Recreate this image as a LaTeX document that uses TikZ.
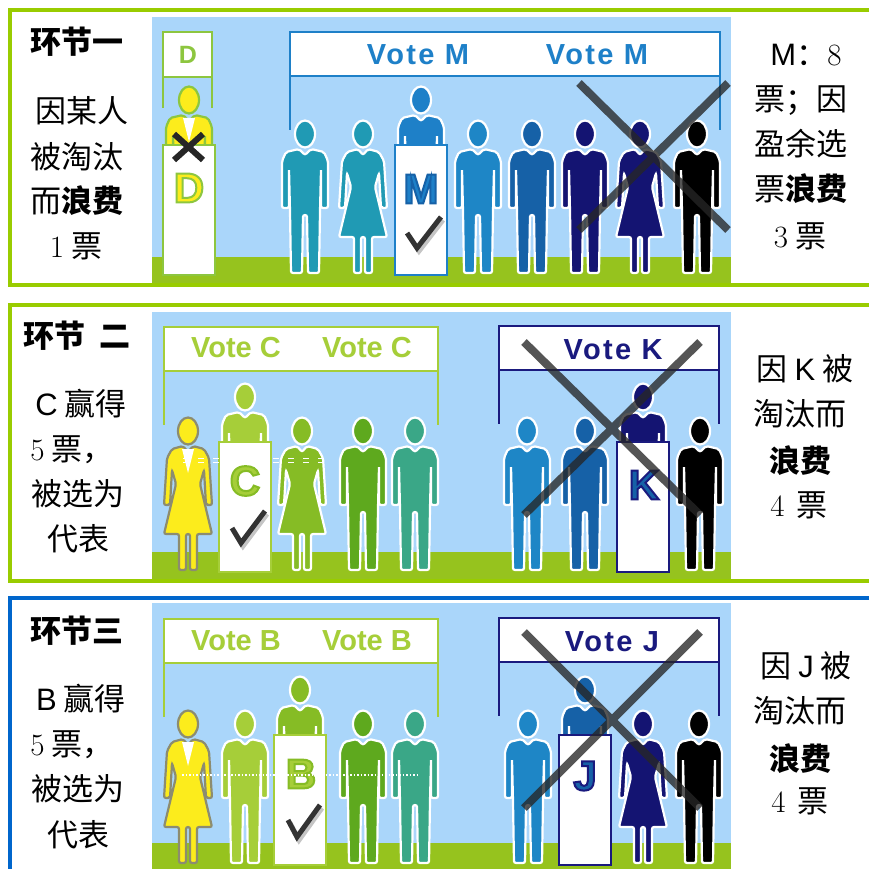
\documentclass[tikz,border=0pt]{standalone}
\usepackage{fontspec}
\newfontfamily\cjk{Noto Sans CJK SC}
\newfontfamily\arial{Liberation Sans}
\usetikzlibrary{positioning}

\definecolor{framegreen}{HTML}{99CC00}
\definecolor{frameblue}{HTML}{0066CC}
\definecolor{sky}{HTML}{AAD6FA}
\definecolor{grass}{HTML}{96C31E}
\definecolor{limeC}{HTML}{A6CE39}
\definecolor{signgreen}{HTML}{8DC63F}
\definecolor{leaf}{HTML}{86BC25}
\definecolor{moss}{HTML}{5EA91E}
\definecolor{seagreen}{HTML}{3AA787}
\definecolor{figteal}{HTML}{209AB4}
\definecolor{figblue}{HTML}{1E86C6}
\definecolor{mblue}{HTML}{1E80C8}
\definecolor{figmid}{HTML}{1661A7}
\definecolor{fignavy}{HTML}{141472}
\definecolor{navyline}{HTML}{1A1A7E}
\definecolor{figyellow}{HTML}{FCEC1C}
\definecolor{yellowline}{HTML}{8C8C70}

\tikzset{
  say/.style={font=\cjk\fontsize{31}{31}\selectfont, inner sep=0pt, text height=26pt, text depth=5pt},
  title/.style={say, font=\cjk\bfseries\fontsize{31}{31}\selectfont},
  vote/.style={font=\arial\bfseries\fontsize{29}{29}\selectfont, inner sep=0pt},
  spaced/.style={font=\arial\bfseries\fontsize{29}{29}\selectfont\addfontfeature{LetterSpace=8}, inner sep=0pt},
  podtxt/.style={font=\arial\bfseries\fontsize{42}{42}\selectfont, inner sep=0pt},
  cross/.style={draw=black!85, line width=8pt, opacity=.78},
}

% standing figures, feet at (#1,#2)
\newcommand\manfig[4]{%
  \begin{scope}[shift={(#1,#2)}]
    \filldraw[fill=#3, draw=#4, line width=2.2pt, rounded corners=2pt]
      (-6,-124) -- (-19,-121) -- (-23,-112) -- (-23,-65) -- (-16,-65) -- (-16,-104)
      -- (-15,-62) -- (-14,0) -- (-3,0) -- (-2,-58) -- (2,-58) -- (3,0) -- (14,0)
      -- (15,-62) -- (16,-104) -- (16,-65) -- (23,-65) -- (23,-112) -- (19,-121)
      -- (6,-124) -- (0,-118) -- cycle;
    \filldraw[fill=#3, draw=#4, line width=2.2pt] (0,-139) ellipse [x radius=10, y radius=13.5];
  \end{scope}}
\newcommand\womanfig[4]{%
  \begin{scope}[shift={(#1,#2)}]
    \filldraw[fill=#3, draw=#4, line width=2.2pt, rounded corners=2pt]
      (-5,-124) -- (-16,-121) -- (-21,-112) -- (-24,-65) -- (-18,-65) -- (-16,-100)
      -- (-12,-86) -- (-24,-36) -- (-9,-36) -- (-9,0) -- (-2,0) -- (-2,-36) -- (2,-36)
      -- (2,0) -- (9,0) -- (9,-36) -- (24,-36) -- (12,-86) -- (16,-100) -- (18,-65)
      -- (24,-65) -- (21,-112) -- (16,-121) -- (5,-124) -- (0,-118) -- cycle;
    \filldraw[fill=#3, draw=#4, line width=2.2pt] (0,-139) ellipse [x radius=10, y radius=13.5];
  \end{scope}}
\newcommand\collar[2]{\fill[white] (#1-6,#2-121) -- (#1+6,#2-121) -- (#1,#2-97) -- cycle;}
\newcommand\podium[3]{\filldraw[fill=white, draw=#3, line width=2pt] (#1-26,#2-128) rectangle (#1+26,#2+2);}
% letter filled with #5 and stroked with rgb #6
\newcommand\podletter[6]{%
  \node[podtxt, text=#5] (#1) at (#2,#3)
    {\special{pdf:code q 2 Tr 2 w #6 RG}#4\special{pdf:code Q}};}
\newcommand\banner[4]{%
  \draw[#4, line width=2.5pt] (#1,#2+44) -- (#1,#2+98) (#3,#2+44) -- (#3,#2+98);
  \filldraw[fill=white, draw=#4, line width=2pt] (#1,#2) rectangle (#3,#2+44);}
\newcommand\votecheck[6]{%
  \draw[black!45, opacity=.5, line width=5pt] (#1+2,#2+3) -- (#3+2,#4+3) -- (#5+2,#6+3);
  \draw[black!80, line width=5pt] (#1,#2) -- (#3,#4) -- (#5,#6);}
\newcommand\crossout[4]{\draw[cross] (#1,#2) -- (#3,#4) (#3,#2) -- (#1,#4);}

\begin{document}
\begin{tikzpicture}[x=1pt, y=-1pt]
\useasboundingbox (0,0) rectangle (869,869);

% round one
\draw[framegreen, line width=4pt] (869,10) -- (10,10) -- (10,285) -- (869,285);
\fill[sky] (152,17) rectangle (731,283);
\fill[grass] (152,257) rectangle (731,283);
\draw[signgreen, line width=2.5pt] (163,77) -- (163,108) (212,77) -- (212,108);
\filldraw[fill=white, draw=signgreen, line width=2pt] (163,32) rectangle (212,77);
\node[font=\arial\bfseries\fontsize{25}{25}\selectfont, text=signgreen, inner sep=0pt] (signD) at (188,55) {D};
\banner{290}{32}{720}{mblue}
\node[spaced, text=mblue] (voteMa) at (418,55) {Vote M};
\node[spaced, text=mblue] (voteMb) at (597,55) {Vote M};
\manfig{189}{239}{figyellow}{signgreen}
\collar{189}{239}
\podium{189}{273}{signgreen}
\podletter{letD}{189}{188}{D}{figyellow}{0.553 0.776 0.247}
\draw[black!85, line width=6pt] (174,134) -- (203,160) (203,134) -- (174,160);
\manfig{305}{273}{figteal}{white}
\womanfig{363}{273}{figteal}{white}
\manfig{421}{239}{mblue}{white}
\podium{421}{273}{mblue}
\podletter{letM}{421}{189}{M}{mblue}{0.086 0.380 0.655}
\votecheck{407}{233}{417}{248}{441}{217}
\manfig{478}{273}{figblue}{white}
\manfig{532}{273}{figmid}{white}
\manfig{585}{273}{fignavy}{white}
\womanfig{640}{273}{fignavy}{white}
\manfig{697}{273}{black}{white}
\crossout{579}{83}{728}{230}

\node[title] (oneT) at (77,43) {环节一};
\node[say] (oneA) at (82,112) {因某人};
\node[say] (oneB) at (77,158) {被淘汰};
\node[say] (oneC) at (77,202) {而\textbf{浪费}};
\node[say] (oneD) at (76,247) {\textrm{1} 票};
\node[say] (oneE) at (806,55) {{\arial M}：\textrm{8}};
\node[say] (oneF) at (801,100) {票；因};
\node[say] (oneG) at (801,145) {盈余选};
\node[say] (oneH) at (801,190) {票\textbf{浪费}};
\node[say] (oneI) at (800,237) {\textrm{3} 票};

% round two
\draw[framegreen, line width=4pt] (869,305) -- (10,305) -- (10,581) -- (869,581);
\fill[sky] (152,312) rectangle (731,579);
\fill[grass] (152,552) rectangle (731,579);
\banner{164}{327}{438}{limeC}
\node[vote, text=limeC] (voteCa) at (236,348) {Vote C};
\node[vote, text=limeC] (voteCb) at (367,348) {Vote C};
\banner{499}{326}{719}{navyline}
\node[spaced, text=navyline] (voteK) at (613,350) {Vote K};
\womanfig{188}{570}{figyellow}{yellowline}
\collar{188}{570}
\manfig{245}{536}{limeC}{white}
\podium{245}{570}{limeC}
\podletter{letC}{245}{481}{C}{limeC}{0.525 0.737 0.145}
\votecheck{232}{528}{241}{543}{265}{511}
\womanfig{302}{570}{leaf}{white}
\manfig{363}{570}{moss}{white}
\manfig{415}{570}{seagreen}{white}
\draw[white, line width=1pt, dash pattern=on 6pt off 9pt] (183,458) -- (330,458) (183,462) -- (330,462);
\manfig{527}{570}{figblue}{white}
\manfig{585}{570}{figmid}{white}
\manfig{643}{536}{fignavy}{white}
\podium{643}{570}{navyline}
\podletter{letK}{644}{485}{K}{figmid}{0.102 0.102 0.494}
\manfig{700}{570}{black}{white}
\crossout{524}{342}{700}{515}

\node[title] (twoT) at (77,337) {环节\hspace{14pt}二};
\node[say] (twoA) at (81,405) {{\arial C} 赢得};
\node[say] (twoB) at (72,450) {\textrm{5} 票，};
\node[say] (twoC) at (78,495) {被选为};
\node[say] (twoD) at (78,540) {代表};
\node[say] (twoE) at (805,370) {因 {\arial K} 被};
\node[say] (twoF) at (800,415) {淘汰而};
\node[say] (twoG) at (800,462) {\textbf{浪费}};
\node[say] (twoH) at (799,506) {\textrm{4}\hspace{12pt}票};

% round three
\draw[frameblue, line width=4pt] (869,598) -- (10,598) -- (10,869);
\fill[sky] (152,603) rectangle (731,869);
\fill[grass] (152,843) rectangle (731,869);
\banner{164}{619}{438}{limeC}
\node[vote, text=limeC] (voteBa) at (236,641) {Vote B};
\node[vote, text=limeC] (voteBb) at (367,641) {Vote B};
\banner{499}{618}{719}{navyline}
\node[spaced, text=navyline] (voteJ) at (612,642) {Vote J};
\womanfig{188}{863}{figyellow}{yellowline}
\collar{188}{863}
\manfig{245}{863}{limeC}{white}
\manfig{300}{829}{leaf}{white}
\podium{300}{863}{limeC}
\podletter{letB}{301}{774}{B}{limeC}{0.525 0.737 0.145}
\votecheck{288}{820}{297}{837}{320}{805}
\manfig{363}{863}{moss}{white}
\manfig{415}{863}{seagreen}{white}
\draw[white, line width=1.5pt, dotted] (182,775) -- (417,775);
\manfig{528}{863}{figblue}{white}
\manfig{585}{829}{figmid}{white}
\podium{585}{863}{navyline}
\podletter{letJ}{585}{776}{J}{figmid}{0.102 0.102 0.494}
\womanfig{643}{863}{fignavy}{white}
\manfig{699}{863}{black}{white}
\crossout{524}{632}{700}{808}

\node[title] (threeT) at (77,632) {环节三};
\node[say] (threeA) at (81,700) {{\arial B} 赢得};
\node[say] (threeB) at (72,745) {\textrm{5} 票，};
\node[say] (threeC) at (78,790) {被选为};
\node[say] (threeD) at (78,836) {代表};
\node[say] (threeE) at (806,667) {因 {\arial J} 被};
\node[say] (threeF) at (800,712) {淘汰而};
\node[say] (threeG) at (800,760) {\textbf{浪费}};
\node[say] (threeH) at (800,802) {\textrm{4}\hspace{12pt}票};
\end{tikzpicture}
\end{document}
